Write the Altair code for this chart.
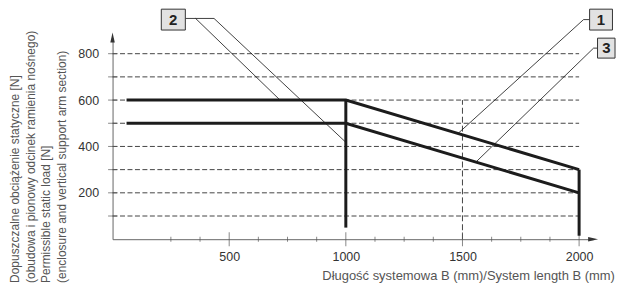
import altair as alt
import pandas as pd

# ---- chart values -------------------------------------------------------
length_mm = [60, 1000, 2000]          # system length B (mm)
load_curve_1 = [600, 600, 300]        # permissible load, curve 1 (N)
load_curve_3 = [500, 500, 200]        # permissible load, curve 3 (N)
drop_x = [1000, 2000]                 # vertical limit lines
drop_top = [600, 300]
drop_bottom = [50, 15]
x_label_values = [500, 1000, 1500, 2000]
x_minor_ticks = [250, 375, 625, 750, 875, 1125, 1250, 1375, 1625, 1750, 1875]
y_label_values = [200, 400, 600, 800]
grid_levels = [100, 200, 300, 400, 500, 600, 700, 800]
ref_x = [1500]
ref_top = [600]

# ---- annotation anchors (data coordinates) --------------------------------
box_names = ["2", "1", "3"]
box_x0 = [209, 2045, 2079]
box_x1 = [312, 2143, 2154]
box_y0 = [902, 902, 781]
box_y1 = [992, 992, 867]
box_tx = [260, 2094, 2117]
box_ty = [947, 947, 824]
leaders = {
    "2a": [(312, 952), (435, 952), (1000, 418)],
    "2b": [(356, 952), (718, 600)],
    "1": [(2045, 947), (2019, 947), (1481, 456)],
    "3": [(2079, 824), (2062, 824), (1558, 333)],
}

FONT = "Liberation Sans"
xs = alt.Scale(domain=[0, 2060], nice=False, zero=False)
ys = alt.Scale(domain=[0, 870], nice=False, zero=False)

XAXIS = alt.Axis(
    values=x_label_values, format="d", ticks=False, tickSize=0, grid=False,
    domainColor="#666", domainWidth=1,
    labelFont=FONT, labelFontSize=12.5, labelColor="#333", labelPadding=11,
    title="Długość systemowa B (mm)/System length B (mm)",
    titleFont=FONT, titleFontSize=13, titleFontWeight="normal", titleColor="#555",
    titleAlign="right", titleAnchor="end", titleBaseline="alphabetic", titleLimit=400,
    titleX=504, titleY=40)
YAXIS = alt.Axis(
    values=y_label_values, format="d", ticks=False, tickSize=0, grid=False,
    domainColor="#666", domainWidth=1,
    labelFont=FONT, labelFontSize=12.5, labelColor="#333", labelPadding=14,
    title=["Dopuszczalne obciążenie statyczne [N]",
           "(obudowa i pionowy odcinek ramienia nośnego)",
           "Permissible static load [N]",
           "(enclosure and vertical support arm section)"],
    titleFont=FONT, titleFontSize=12, titleFontWeight="normal", titleColor="#555",
    titleAngle=270, titleAlign="left", titleBaseline="top", titleLineHeight=15.5,
    titleLimit=400, titleX=-103, titleY=246)

curves = pd.DataFrame({
    "len": length_mm * 2,
    "load": load_curve_1 + load_curve_3,
    "series": ["1"] * 3 + ["3"] * 3,
})
drops = pd.DataFrame({"x": drop_x, "y0": drop_top, "y1": drop_bottom})
grid = pd.DataFrame({"y": grid_levels, "x0": [0] * 8, "x1": [2000] * 8})
ref = pd.DataFrame({"x": ref_x, "y0": [0], "y1": ref_top})
xmaj = pd.DataFrame({"x": x_label_values, "y": [0] * 4})
xmin = pd.DataFrame({"x": x_minor_ticks, "y": [0] * len(x_minor_ticks)})
yt = pd.DataFrame({"y": grid_levels, "x": [0] * 8})
lead_rows = []
for k, pts in leaders.items():
    for i, (px, py) in enumerate(pts):
        lead_rows.append({"id": k, "i": i, "x": px, "y": py})
lead = pd.DataFrame(lead_rows)
boxes = pd.DataFrame({"name": box_names, "x0": box_x0, "x1": box_x1,
                      "y0": box_y0, "y1": box_y1, "tx": box_tx, "ty": box_ty})
arrow_x = pd.DataFrame({"x": [2060], "y": [0]})
arrow_y = pd.DataFrame({"x": [0], "y": [870]})


def X(f):
    return alt.X(f, type="quantitative", scale=xs, axis=XAXIS)


def Y(f):
    return alt.Y(f, type="quantitative", scale=ys, axis=YAXIS)


grid_l = alt.Chart(grid).mark_rule(color="#444", strokeWidth=1, strokeDash=[5, 2.5]).encode(
    x=X("x0"), x2="x1", y=Y("y"))
ref_l = alt.Chart(ref).mark_rule(color="#444", strokeWidth=1, strokeDash=[6, 3]).encode(
    x=X("x"), y=Y("y0"), y2="y1")
xmaj_l = alt.Chart(xmaj).mark_tick(orient="vertical", size=14, thickness=1, color="#555").encode(
    x=X("x"), y=Y("y"))
xmin_l = alt.Chart(xmin).mark_tick(orient="vertical", size=5, thickness=1, color="#555").encode(
    x=X("x"), y=Y("y"))
yt_l = alt.Chart(yt).mark_tick(orient="horizontal", size=9, thickness=1, color="#555").encode(
    x=X("x"), y=Y("y"))
lead_l = alt.Chart(lead).mark_line(color="#111", strokeWidth=0.8).encode(
    x=X("x"), y=Y("y"), detail="id:N", order="i:Q")
curve_l = alt.Chart(curves).mark_line(color="#1c1c1c", strokeWidth=3).encode(
    x=X("len"), y=Y("load"), detail="series:N")
drop_l = alt.Chart(drops).mark_rule(color="#1c1c1c", strokeWidth=3).encode(
    x=X("x"), y=Y("y0"), y2="y1")
box_l = alt.Chart(boxes).mark_rect(fill="#e2e2e2", stroke="#333", strokeWidth=1).encode(
    x=X("x0"), x2="x1", y=Y("y0"), y2="y1")
txt_l = alt.Chart(boxes).mark_text(font=FONT, fontWeight="bold", fontSize=15, color="#222",
                                   baseline="middle", align="center").encode(
    x=X("tx"), y=Y("ty"), text="name:N")
arrx_l = alt.Chart(arrow_x).mark_point(shape="M1,0L-1,-0.45L-1,0.45Z", filled=True, size=100,
                                       opacity=1, color="#333", strokeWidth=0).encode(
    x=X("x"), y=Y("y"))
arry_l = alt.Chart(arrow_y).mark_point(shape="M0,-1L-0.45,1L0.45,1Z", filled=True, size=100,
                                       opacity=1, color="#333", strokeWidth=0).encode(
    x=X("x"), y=Y("y"))

chart = alt.layer(
    grid_l, ref_l, xmaj_l, xmin_l, yt_l, lead_l, curve_l, drop_l, box_l, txt_l, arrx_l, arry_l
).properties(
    width=482.6, height=202.6, padding=0, background="white"
).configure_view(strokeWidth=0)

chart.save("out.html", embed_options={"renderer": "svg", "actions": False})
